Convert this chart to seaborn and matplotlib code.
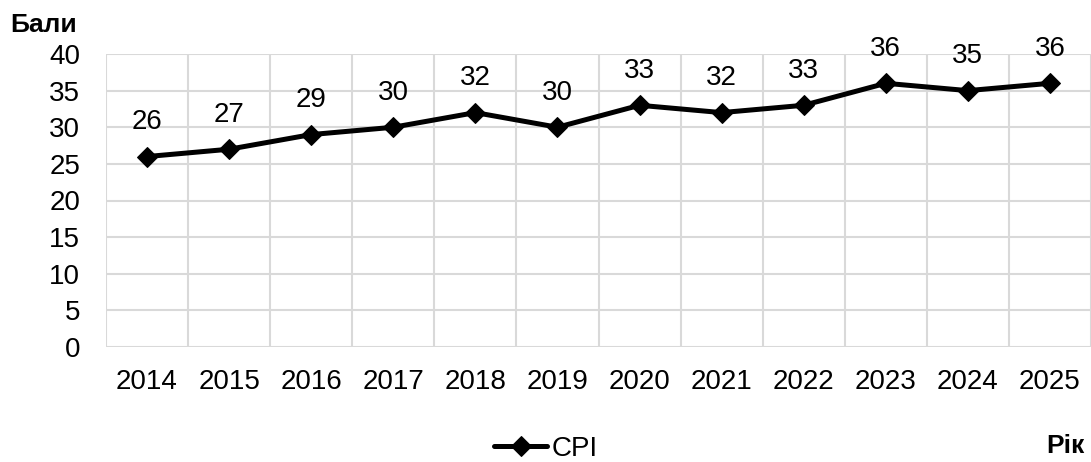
import numpy as np
import pandas as pd
import matplotlib
matplotlib.use("Agg")
import matplotlib.pyplot as plt
import seaborn as sns

years = ["2014", "2015", "2016", "2017", "2018", "2019", "2020", "2021", "2022", "2023", "2024", "2025"]
cpi = [26, 27, 29, 30, 32, 30, 33, 32, 33, 36, 35, 36]
y_ticks = [0, 5, 10, 15, 20, 25, 30, 35, 40]

sns.set_style("white")
plt.rcParams["font.family"] = ["Liberation Sans", "DejaVu Sans"]
plt.rcParams["text.color"] = "black"
plt.rcParams["xtick.labelcolor"] = "black"
plt.rcParams["ytick.labelcolor"] = "black"

df = pd.DataFrame({"pos": np.arange(len(years)), "CPI": cpi})

fig = plt.figure(figsize=(10.91, 4.62), dpi=100)
ax = fig.add_axes([106 / 1091, 1 - 347 / 462, 1 - 106 / 1091, (347 - 54) / 462])

grid_col = "#d9d9d9"
sns.lineplot(data=df, x="pos", y="CPI", ax=ax, color="black", linewidth=3.6,
             marker="D", markersize=10, markeredgecolor="black", label="CPI", legend=False)

# data labels above the points
for x, v in zip(df["pos"], cpi):
    ax.annotate(str(v), (x, v), xytext=(0, 25), textcoords="offset points",
                ha="center", va="center", fontsize=20, color="black")

ax.set_xlim(-0.5, len(years) - 0.5)
ax.set_ylim(0, 40)
ax.set_yticks(y_ticks)
ax.set_xticks(df["pos"])
ax.set_xticklabels(years)
ax.set_xticks(np.arange(-0.5, len(years)), minor=True)
ax.grid(axis="y", which="major", color=grid_col, linewidth=1.5)
ax.grid(axis="x", which="minor", color=grid_col, linewidth=1.5)
ax.tick_params(axis="x", which="major", length=0, labelsize=20, pad=16)
ax.tick_params(axis="x", which="minor", length=6, color=grid_col, width=1.5)
ax.tick_params(axis="y", length=6.5, color=grid_col, width=1.5, labelsize=20, pad=12)
for s in ax.spines.values():
    s.set_visible(False)
ax.set_axisbelow(True)
ax.set_xlabel("")
ax.set_ylabel("")

fig.text(10 / 1091, 1 - 25 / 462, "Бали", fontsize=19, fontweight="bold", ha="left", va="center")
fig.text(1085 / 1091, 1 - 446 / 462, "Рік", fontsize=19, fontweight="bold", ha="right", va="center")

handles, labels = ax.get_legend_handles_labels()
fig.legend(handles, labels, loc="center", bbox_to_anchor=(546 / 1091, 1 - 449 / 462),
           frameon=False, fontsize=20, handlelength=1.9, handletextpad=0.15,
           borderpad=0, borderaxespad=0)

fig.savefig("out.png", dpi=100)
